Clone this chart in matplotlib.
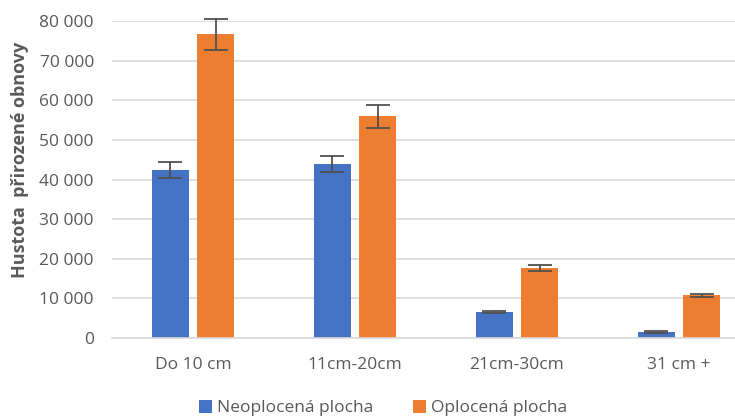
import numpy as np
import matplotlib.pyplot as plt

# data
categories = ["Do 10 cm", "11cm-20cm", "21cm-30cm", "31 cm +"]
neoplocena = [42400, 43900, 6600, 1500]
neoplocena_err = [2100, 2100, 300, 300]
oplocena = [76700, 56000, 17700, 10800]
oplocena_err = [3900, 2900, 800, 400]
series_names = ["Neoplocená plocha", "Oplocená plocha"]
yticks = np.arange(0, 80001, 10000)

plt.rcParams['font.family'] = ['Open Sans', 'DejaVu Sans']

fig = plt.figure(figsize=(7.35, 4.16), dpi=100)
ax = fig.add_axes([112 / 735, 78 / 416, 623 / 735, 317 / 416])

x = np.arange(len(categories))
w = 0.228
off = 0.139
err_kw = dict(ecolor="#505050", elinewidth=1.3, capsize=8.4, capthick=1.3)
b1 = ax.bar(x - off, neoplocena, w, yerr=neoplocena_err, color="#4472C4",
            label=series_names[0], error_kw=err_kw, zorder=2)
b2 = ax.bar(x + off, oplocena, w, yerr=oplocena_err, color="#ED7D31",
            label=series_names[1], error_kw=err_kw, zorder=2)

# let the caps go above the top gridline like in the original
for bc in (b1, b2):
    data_line, caplines, barcols = bc.errorbar.lines
    for c in caplines:
        c.set_clip_on(False)
    for c in barcols:
        c.set_clip_on(False)

ax.set_xlim(-0.5, -0.5 + 623 / 162)
ax.set_ylim(0, 80000)
ax.set_yticks(yticks)
ax.set_yticklabels([f"{v:,}".replace(",", " ") for v in yticks])
ax.set_xticks(x)
ax.set_xticklabels(categories)
ax.yaxis.grid(True, color="#d9d9d9", linewidth=1.2, zorder=0)
ax.set_axisbelow(True)
for s in ["top", "right", "left"]:
    ax.spines[s].set_visible(False)
ax.spines["bottom"].set_color("#d9d9d9")
ax.spines["bottom"].set_linewidth(1.2)
ax.tick_params(axis="both", length=0, colors="#595959", labelsize=12.5)
ax.tick_params(axis="x", pad=14)
ax.tick_params(axis="y", pad=13)

fig.text(20 / 735, 1 - 160 / 416, "Hustota  přirozené obnovy", rotation=90,
         ha="center", va="center", fontsize=13, fontweight="bold",
         color="#595959")

fig.legend(loc="center", bbox_to_anchor=(383 / 735, 1 - 408 / 416), ncol=2,
           frameon=False, fontsize=12.5, labelcolor="#595959",
           handlelength=0.75, handleheight=0.75, columnspacing=2.3,
           handletextpad=0.3, borderpad=0)

fig.savefig("out.png", dpi=100)
